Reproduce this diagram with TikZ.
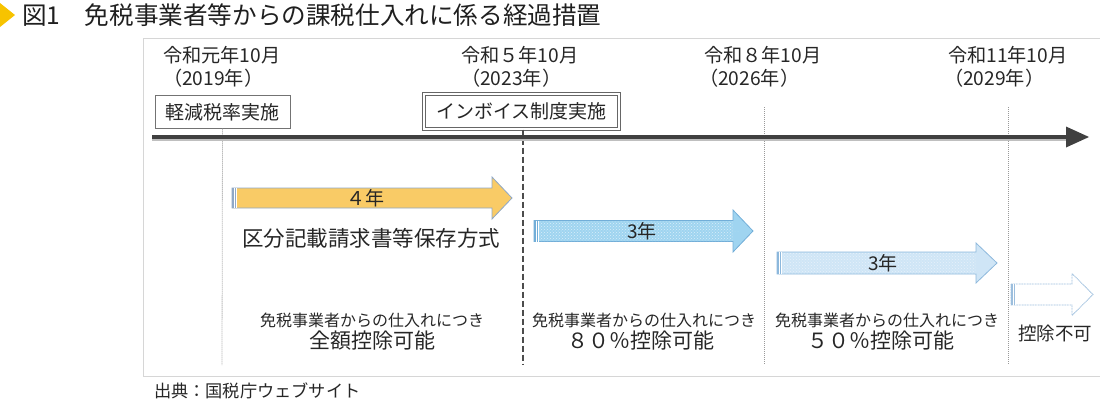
\documentclass[tikz,border=0pt]{standalone}
\usepackage{fontspec}
\setmainfont{Noto Sans CJK JP}
\usetikzlibrary{patterns}
\definecolor{txt}{HTML}{262626}
\definecolor{axisc}{HTML}{404040}
\definecolor{titleyel}{HTML}{F7C300}
\definecolor{orangefill}{HTML}{F9CB66}
\definecolor{arrowedge}{HTML}{8FA8C6}
\definecolor{blue2fill}{HTML}{9FD4F0}
\definecolor{blue2edge}{HTML}{72AED8}
\definecolor{blue3fill}{HTML}{CFE5F6}
\definecolor{blue3edge}{HTML}{8DB8DC}
\definecolor{blue4edge}{HTML}{9CBEDD}
\definecolor{framec}{HTML}{D6D6D6}
\newcommand\fsz[1]{\fontsize{#1}{#1}\selectfont}
% left, tip, headstart, centre y, body half height, head half height, style
\newcommand\blockarrow[7]{%
  \path[#7] ({#1},{#4-#5}) -- ({#3},{#4-#5}) -- ({#3},{#4-#6}) -- ({#2},{#4})
    -- ({#3},{#4+#6}) -- ({#3},{#4+#5}) -- ({#1},{#4+#5}) -- cycle;}
\newcommand\stripes[4]{%
  \fill[#4] ({#1},{#2-#3}) rectangle ({#1+5},{#2+#3});
  \draw[white,line width=0.7pt] ({#1+2.2},{#2-#3}) -- ({#1+2.2},{#2+#3});
  \draw[white,line width=0.5pt] ({#1+4},{#2-#3}) -- ({#1+4},{#2+#3});}
\begin{document}
\begin{tikzpicture}[x=1pt,y=-1pt,
  every node/.style={inner sep=0pt,outer sep=0pt,text=txt},
  datelbl/.style={anchor=west,font=\fsz{19.2}},
  eventbox/.style={draw=black!55,line width=0.9pt,fill=white,font=\fsz{19},minimum height=33pt,inner xsep=9pt},
  guideline/.style={draw=black!40,line width=0.8pt,dash pattern=on 1pt off 1pt},
  arrowlbl/.style={font=\fsz{19}},
  smalltxt/.style={font=\fsz{16}},
  bigtxt/.style={font=\fsz{21}}
]
\useasboundingbox (0,0) rectangle (1100,402);
% frame
\draw[framec,line width=1pt] (1101,38) -- (143,38) -- (143,376) -- (1101,376);
% title
\fill[titleyel] (0,3) -- (15,15) -- (0,27) -- cycle;
\node[anchor=west,font=\fsz{24.6},text=black!88] (title) at (22,15) {図1　免税事業者等からの課税仕入れに係る経過措置};
% date labels
\node[datelbl] (d1a) at (163,55) {令和元年10月};
\node[datelbl] (d1b) at (163,78) {（2019年）};
\node[datelbl] (d2a) at (461,55) {令和５年10月};
\node[datelbl] (d2b) at (461,78) {（2023年）};
\node[datelbl] (d3a) at (704,55) {令和８年10月};
\node[datelbl] (d3b) at (699,78) {（2026年）};
\node[datelbl] (d4a) at (948,55) {令和11年10月};
\node[datelbl] (d4b) at (944,78) {（2029年）};
% event boxes
\node[eventbox,minimum width=135pt] (box1) at (222.5,112) {軽減税率実施};
\node[eventbox,minimum width=195pt,double=white,double distance=2pt,draw=black!60,minimum height=35pt] (box2) at (521.5,111.5) {インボイス制度実施};
% guide lines
\coordinate (g1b) at (222,365);
\coordinate (g2b) at (523,365);
\coordinate (g3t) at (764,107);
\coordinate (g3b) at (764,365);
\coordinate (g4t) at (1008,107);
\coordinate (g4b) at (1008,365);
\draw[guideline] (box1.south) -- (g1b);
\draw[draw=black!70,line width=2pt,dash pattern=on 6pt off 3pt] (523,129.5) -- (g2b);
\draw[guideline] (g3t) -- (g3b);
\draw[guideline] (g4t) -- (g4b);
% time axis
\coordinate (axs) at (152,137);
\coordinate (axe) at (1068,137);
\draw[black!25,line width=4pt] (152,139) -- (1068,139);
\draw[axisc,line width=4pt] (axs) -- (axe);
\fill[axisc] (1066,126.5) -- (1089,137) -- (1066,147.5) -- cycle;
% arrow 1
\blockarrow{232}{512}{492}{198}{10}{21}{fill=orangefill,draw=arrowedge,line width=0.8pt}
\stripes{232}{198}{10}{arrowedge}
\node[arrowlbl] (a1) at (365,198) {４年};
% arrow 2
\blockarrow{534}{753}{733}{231}{10.5}{21}{fill=blue2fill,draw=blue2edge,line width=0.8pt}
\blockarrow{539}{740}{733}{231}{10}{0}{pattern=crosshatch dots,pattern color=white!60!blue2fill}
\stripes{534}{231}{10.5}{blue2edge}
\node[arrowlbl] (a2) at (642,231) {3年};
% arrow 3
\blockarrow{777}{997}{976}{263}{11}{20}{fill=blue3fill,draw=blue3edge,line width=0.8pt}
\blockarrow{782}{983}{976}{263}{10.5}{0}{pattern=crosshatch dots,pattern color=white!50!blue3fill}
\stripes{777}{263}{11}{blue3edge}
\node[arrowlbl] (a3) at (883,263) {3年};
% arrow 4
\blockarrow{1011}{1093}{1072}{294.5}{10.5}{21}{fill=white,draw=blue4edge,line width=0.8pt,dash pattern=on 1pt off 0.6pt}
\stripes{1011}{294.5}{10.5}{blue4edge}
% texts
\node[bigtxt,font=\fsz{21.5}] (method) at (371,238) {区分記載請求書等保存方式};
\node[smalltxt] (s1) at (372,320) {免税事業者からの仕入れにつき};
\node[bigtxt] (t1) at (372,341) {全額控除可能};
\node[smalltxt] (s2) at (644,320) {免税事業者からの仕入れにつき};
\node[bigtxt] (t2) at (641,341) {８０％控除可能};
\node[smalltxt] (s3) at (887,320) {免税事業者からの仕入れにつき};
\node[bigtxt] (t3) at (881,341) {５０％控除可能};
\node[font=\fsz{18.5}] (t4) at (1055,333) {控除不可};
% source
\node[anchor=west,font=\fsz{17.2}] (src) at (154,391) {出典：国税庁ウェブサイト};
\end{tikzpicture}
\end{document}
